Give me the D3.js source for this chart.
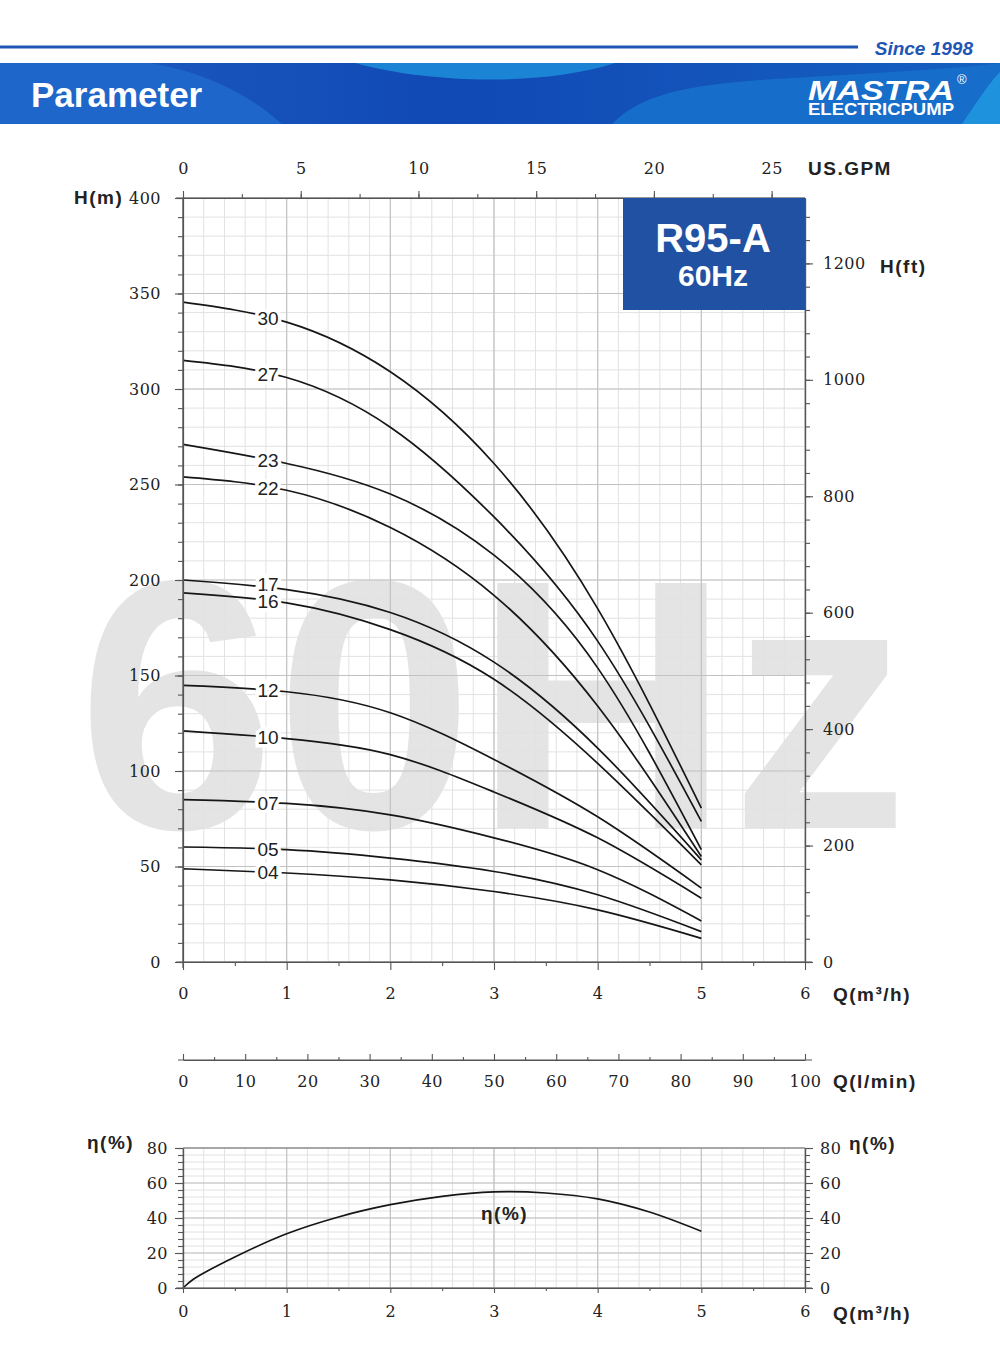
<!DOCTYPE html>
<html>
<head>
<meta charset="utf-8">
<script src="https://cdn.jsdelivr.net/npm/d3@7"></script>
<style>
body { margin: 0; background: #fff; }
svg text { font-family: "Liberation Sans", Arial, sans-serif; }
.num { font-family: "DejaVu Serif", serif; font-size: 16px; fill: #222; letter-spacing: 0.5px; }
.lbl { font-weight: bold; font-size: 19px; fill: #222; letter-spacing: 1.5px; }
</style>
</head>
<body>
<svg id="chart" width="1000" height="1356"></svg>
<script>

var stageLabels = ["30", "27", "23", "22", "17", "16", "12", "10", "07", "05", "04"]
var flowPoints = [0, 1, 2, 3, 4, 5]
var headCurves = [
    [345.5, 335, 309, 261, 185, 80.6],
    [315, 306, 280, 233, 168, 73.6],
    [271, 261, 245, 213, 154, 58.8],
    [254, 247, 227.5, 192, 134, 55.2],
    [200, 195, 183, 157, 112, 53.5],
    [193.3, 188, 174, 148, 104, 50.9],
    [144.8, 141.5, 130.5, 106, 76, 38.7],
    [121, 117, 108.6, 89, 65, 33.4],
    [85, 83, 77, 65, 48.3, 21.5],
    [60.2, 58.8, 54.4, 47.4, 35.2, 15.9],
    [48.8, 46.6, 43, 36.9, 27.3, 12.4]
]
var effFlow = [0, 0.1, 0.5, 1, 1.5, 2, 2.5, 3, 3.5, 4, 4.5, 5]
var effValues = [0, 5, 17.7, 31, 40.6, 47.6, 52.4, 54.9, 54.3, 50.9, 43.4, 32.4]

var headTicks = [0, 50, 100, 150, 200, 250, 300, 350, 400]
var feetTicks = [0, 200, 400, 600, 800, 1000, 1200]
var gpmTicks = [0, 5, 10, 15, 20, 25]
var flowTicks = [0, 1, 2, 3, 4, 5, 6]
var lminTicks = [0, 10, 20, 30, 40, 50, 60, 70, 80, 90, 100]
var effTicks = [0, 20, 40, 60, 80]

var fmt = d3.format("d")

function drawHeader(svg) {
    var defs = svg.append("defs")
    var grad = defs.append("linearGradient").attr("id", "band")
    grad.append("stop").attr("offset", "0%").attr("stop-color", "#1d5cc2")
    grad.append("stop").attr("offset", "45%").attr("stop-color", "#1149b4")
    grad.append("stop").attr("offset", "100%").attr("stop-color", "#1560c2")

    svg.append("line")
        .attr("x1", 0).attr("x2", 858).attr("y1", 47).attr("y2", 47)
        .attr("stroke", "#1f55b5").attr("stroke-width", 3)
    svg.append("text")
        .attr("x", 973).attr("y", 55)
        .attr("text-anchor", "end")
        .style("font-size", "19px").style("font-weight", "bold").style("font-style", "italic")
        .attr("fill", "#1f55b5")
        .text("Since 1998")

    svg.append("rect").attr("x", 0).attr("y", 63).attr("width", 1000).attr("height", 61)
        .attr("fill", "url(#band)")
    svg.append("path").attr("d", "M0,63 L150,63 C205,72 250,95 282,124 L0,124 Z").attr("fill", "#1f66cb")
    svg.append("path").attr("d", "M355,63 C430,84 545,86 615,63 Z").attr("fill", "#1c84d5")
    svg.append("path").attr("d", "M612,124 C640,96 680,86 760,80 C850,74 950,70 1000,63 L1000,124 Z").attr("fill", "#176dca")
    svg.append("path").attr("d", "M962,124 C978,100 990,82 1000,72 L1000,124 Z").attr("fill", "#1f92dd")

    svg.append("text")
        .attr("x", 31).attr("y", 107)
        .style("font-size", "35px").style("font-weight", "bold")
        .attr("fill", "#fff")
        .text("Parameter")

    svg.append("text")
        .attr("x", 808).attr("y", 100)
        .attr("textLength", 146).attr("lengthAdjust", "spacingAndGlyphs")
        .style("font-size", "28px").style("font-weight", "bold").style("font-style", "italic")
        .attr("fill", "#fff")
        .text("MASTRA")
    svg.append("text")
        .attr("x", 957).attr("y", 84)
        .style("font-size", "13px")
        .attr("fill", "#fff")
        .text("®")
    svg.append("text")
        .attr("x", 808).attr("y", 115)
        .attr("textLength", 146).attr("lengthAdjust", "spacingAndGlyphs")
        .style("font-size", "17px").style("font-weight", "bold")
        .attr("fill", "#fff")
        .text("ELECTRICPUMP")
}

function styleAxis(g, cls) {
    g.select(".domain").attr("stroke", "#555").attr("stroke-width", 1.2)
    g.selectAll(".tick line").attr("stroke", "#555").attr("stroke-width", 1.1)
    g.selectAll(".tick text").attr("class", cls).attr("font-family", null).attr("font-size", null).attr("fill", null)
}

function grid(svg, x, y, xMinor, xMajor, yMinor, yMajor) {
    var g = svg.append("g")
    var x0 = x.range()[0], x1 = x.range()[1], y0 = y.range()[0], y1 = y.range()[1]
    g.selectAll(".vmin").data(xMinor).enter().append("line")
        .attr("x1", d => x(d)).attr("x2", d => x(d)).attr("y1", y0).attr("y2", y1)
        .attr("stroke", "#e2e2e2").attr("stroke-width", 1)
    g.selectAll(".hmin").data(yMinor).enter().append("line")
        .attr("x1", x0).attr("x2", x1).attr("y1", d => y(d)).attr("y2", d => y(d))
        .attr("stroke", "#e2e2e2").attr("stroke-width", 1)
    g.selectAll(".vmaj").data(xMajor).enter().append("line")
        .attr("x1", d => x(d)).attr("x2", d => x(d)).attr("y1", y0).attr("y2", y1)
        .attr("stroke", "#c2c2c2").attr("stroke-width", 1.2)
    g.selectAll(".hmaj").data(yMajor).enter().append("line")
        .attr("x1", x0).attr("x2", x1).attr("y1", d => y(d)).attr("y2", d => y(d))
        .attr("stroke", "#c2c2c2").attr("stroke-width", 1.2)
}

function plotPumpChart(svgElementId) {
    var svg = d3.select(svgElementId)
    drawHeader(svg)

    var x = d3.scaleLinear().domain([0, 6]).range([183, 805])
    var y = d3.scaleLinear().domain([0, 400]).range([962, 198])
    var yFt = d3.scaleLinear().domain([0, 400 * 3.28084]).range([962, 198])
    var xGpm = d3.scaleLinear().domain([0, 6 * 4.40287]).range([183, 805])
    var xLmin = d3.scaleLinear().domain([0, 100]).range([183, 805])

    // watermark
    svg.append("text")
        .attr("x", 493).attr("y", 828)
        .attr("text-anchor", "middle")
        .style("font-size", "356px").style("font-weight", "bold")
        .attr("fill", "#e4e4e4")
        .text("60Hz")

    grid(svg, x, y, d3.range(0, 6.01, 0.2), flowTicks, d3.range(0, 401, 10), headTicks)

    var line = d3.line()
        .x(d => x(d[0]))
        .y(d => y(d[1]))
        .curve(d3.curveNatural)

    svg.append("g").selectAll("path")
        .data(headCurves)
        .enter().append("path")
        .attr("d", d => line(d.map((h, i) => [flowPoints[i], h])))
        .attr("fill", "none")
        .attr("stroke", "#161616")
        .attr("stroke-width", 1.7)

    // stage labels sit on their curve; a label too close to the one below is lifted
    var labelQ = 0.82
    var labelYs = headCurves.map(d => y(d[0] + labelQ * (d[1] - d[0])))
    for (var i = labelYs.length - 2; i >= 0; i--) {
        if (labelYs[i + 1] - labelYs[i] < 17) labelYs[i] = labelYs[i + 1] - 17
    }
    svg.append("g").selectAll("text")
        .data(headCurves)
        .enter().append("text")
        .attr("x", x(labelQ))
        .attr("y", (d, i) => labelYs[i])
        .attr("dy", "0.36em")
        .attr("text-anchor", "middle")
        .style("font-size", "19px")
        .attr("fill", "#222")
        .attr("stroke", "#fff").attr("stroke-width", 7).attr("paint-order", "stroke")
        .text((d, i) => stageLabels[i])

    // axes
    var g
    g = svg.append("g").attr("transform", "translate(183,0)")
        .call(d3.axisLeft(y).tickValues(d3.range(0, 401, 10)).tickSize(5).tickSizeOuter(0).tickFormat(""))
    styleAxis(g, "num")
    g = svg.append("g").attr("transform", "translate(183,0)")
        .call(d3.axisLeft(y).tickValues(headTicks).tickSize(8).tickSizeOuter(0).tickPadding(14).tickFormat(fmt))
    styleAxis(g, "num")
    g.select(".domain").attr("d", "M0,198V968")

    g = svg.append("g").attr("transform", "translate(805,0)")
        .call(d3.axisRight(yFt).tickValues(d3.range(0, 1301, 40)).tickSize(5).tickSizeOuter(0).tickFormat(""))
    styleAxis(g, "num")
    g = svg.append("g").attr("transform", "translate(805,0)")
        .call(d3.axisRight(yFt).tickValues(feetTicks).tickSize(8).tickSizeOuter(0).tickPadding(10).tickFormat(fmt))
    styleAxis(g, "num")

    g = svg.append("g").attr("transform", "translate(0,198)")
        .call(d3.axisTop(xGpm).tickValues(d3.range(0, 26.5, 2.5)).tickSize(4).tickSizeOuter(0).tickFormat(""))
    styleAxis(g, "num")
    g = svg.append("g").attr("transform", "translate(0,198)")
        .call(d3.axisTop(xGpm).tickValues(gpmTicks).tickSize(7).tickSizeOuter(0).tickPadding(17).tickFormat(fmt))
    styleAxis(g, "num")
    g.select(".domain").attr("d", "M176,0H805")

    g = svg.append("g").attr("transform", "translate(0,962)")
        .call(d3.axisBottom(x).tickValues(d3.range(0.5, 6, 1)).tickSize(4).tickSizeOuter(0).tickFormat(""))
    styleAxis(g, "num")
    g = svg.append("g").attr("transform", "translate(0,962)")
        .call(d3.axisBottom(x).tickValues(flowTicks).tickSize(8).tickSizeOuter(0).tickPadding(18).tickFormat(fmt))
    styleAxis(g, "num")
    g.select(".domain").attr("d", "M176,0H812")

    // model box
    svg.append("rect")
        .attr("x", 623).attr("y", 198).attr("width", x(6) - 623).attr("height", 112)
        .attr("fill", "#2151a3")
    svg.append("text")
        .attr("x", 713).attr("y", 252)
        .attr("text-anchor", "middle")
        .style("font-size", "40px").style("font-weight", "bold")
        .attr("fill", "#fff")
        .text("R95-A")
    svg.append("text")
        .attr("x", 713).attr("y", 286)
        .attr("text-anchor", "middle")
        .style("font-size", "30px").style("font-weight", "bold")
        .attr("fill", "#fff")
        .text("60Hz")

    svg.append("text").attr("class", "lbl").attr("x", 74).attr("y", 204).text("H(m)")
    svg.append("text").attr("class", "lbl").attr("x", 808).attr("y", 175).text("US.GPM")
    svg.append("text").attr("class", "lbl").attr("x", 880).attr("y", 273).text("H(ft)")
    svg.append("text").attr("class", "lbl").attr("x", 833).attr("y", 1001).html("Q(m³/h)")

    // l/min scale
    g = svg.append("g").attr("transform", "translate(0,1060)")
        .call(d3.axisBottom(xLmin).tickValues(d3.range(5, 100, 10)).tickSize(-3).tickSizeOuter(0).tickFormat(""))
    styleAxis(g, "num")
    g = svg.append("g").attr("transform", "translate(0,1060)")
        .call(d3.axisBottom(xLmin).tickValues(lminTicks).tickSize(-6).tickSizeOuter(0).tickPadding(16).tickFormat(fmt))
    styleAxis(g, "num")
    g.select(".domain").attr("d", "M178,0H812")
    svg.append("text").attr("class", "lbl").attr("x", 833).attr("y", 1088).text("Q(l/min)")

    // efficiency chart
    var ye = d3.scaleLinear().domain([0, 80]).range([1288, 1148])
    grid(svg, x, ye, d3.range(0, 6.01, 0.2), flowTicks, d3.range(0, 81, 4), effTicks)

    var effLine = d3.line()
        .x(d => x(d[0]))
        .y(d => ye(d[1]))
        .curve(d3.curveCatmullRom.alpha(0.5))
    svg.append("path")
        .attr("d", effLine(effValues.map((v, i) => [effFlow[i], v])))
        .attr("fill", "none")
        .attr("stroke", "#161616")
        .attr("stroke-width", 1.7)

    g = svg.append("g").attr("transform", "translate(183,0)")
        .call(d3.axisLeft(ye).tickValues(d3.range(0, 81, 4)).tickSize(5).tickSizeOuter(0).tickFormat(""))
    styleAxis(g, "num")
    g = svg.append("g").attr("transform", "translate(183,0)")
        .call(d3.axisLeft(ye).tickValues(effTicks).tickSize(8).tickSizeOuter(0).tickPadding(7).tickFormat(fmt))
    styleAxis(g, "num")

    g = svg.append("g").attr("transform", "translate(805,0)")
        .call(d3.axisRight(ye).tickValues(d3.range(0, 81, 4)).tickSize(5).tickSizeOuter(0).tickFormat(""))
    styleAxis(g, "num")
    g = svg.append("g").attr("transform", "translate(805,0)")
        .call(d3.axisRight(ye).tickValues(effTicks).tickSize(8).tickSizeOuter(0).tickPadding(7).tickFormat(fmt))
    styleAxis(g, "num")

    g = svg.append("g").attr("transform", "translate(0,1288)")
        .call(d3.axisBottom(x).tickValues(d3.range(0.5, 6, 1)).tickSize(3).tickSizeOuter(0).tickFormat(""))
    styleAxis(g, "num")
    g = svg.append("g").attr("transform", "translate(0,1288)")
        .call(d3.axisBottom(x).tickValues(flowTicks).tickSize(5).tickSizeOuter(0).tickPadding(13).tickFormat(fmt))
    styleAxis(g, "num")
    g.select(".domain").attr("d", "M176,0H812")

    svg.append("line")
        .attr("x1", 183).attr("x2", 805).attr("y1", 1148).attr("y2", 1148)
        .attr("stroke", "#777").attr("stroke-width", 1.2)

    svg.append("text").attr("class", "lbl").attr("x", 87).attr("y", 1149).text("η(%)")
    svg.append("text").attr("class", "lbl").attr("x", 849).attr("y", 1150).text("η(%)")
    svg.append("text").attr("class", "lbl").attr("x", 481).attr("y", 1220).text("η(%)")
    svg.append("text").attr("class", "lbl").attr("x", 833).attr("y", 1320).html("Q(m³/h)")
}

plotPumpChart("#chart")
</script>
</body>
</html>
